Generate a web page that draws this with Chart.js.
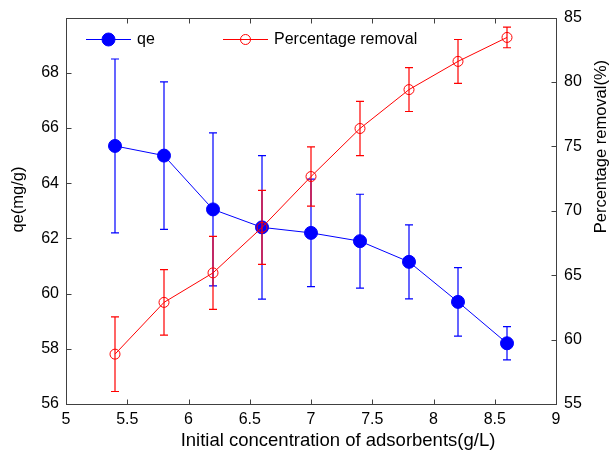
<!DOCTYPE html>
<html><head><meta charset="utf-8">
<script src="https://cdn.jsdelivr.net/npm/chart.js@4.4.1/dist/chart.umd.min.js"></script>
<style>html,body{margin:0;padding:0;background:#fff}</style>
</head><body>
<canvas id="c" width="610" height="455"></canvas>
<script>
const dosage = [5.4, 5.8, 6.2, 6.6, 7.0, 7.4, 7.8, 8.2, 8.6];
const qe = [65.35, 65.0, 63.05, 62.4, 62.2, 61.9, 61.15, 59.7, 58.2];
const qeErr = [3.15, 2.67, 2.77, 2.6, 1.95, 1.7, 1.34, 1.24, 0.6];
const removal = [58.87, 62.89, 65.18, 68.71, 72.66, 76.39, 79.41, 81.6, 83.46];
const removalErr = [2.9, 2.54, 2.83, 2.87, 2.3, 2.1, 1.7, 1.7, 0.8];
const xTicks = [5, 5.5, 6, 6.5, 7, 7.5, 8, 8.5, 9];
const qeTicks = [56, 58, 60, 62, 64, 66, 68];
const removalTicks = [55, 60, 65, 70, 75, 80, 85];
const xTitle = 'Initial concentration of adsorbents(g/L)';
const yTitle = 'qe(mg/g)';
const y1Title = 'Percentage removal(%)';

const FONT = 'Arial, "Liberation Sans", Helvetica, sans-serif';
const FRAME = '#404040';

const errorBars = {
  id: 'errorBars',
  beforeDatasetDraw(chart, args) {
    const ds = chart.data.datasets[args.index];
    if (!ds.errors) return;
    const meta = args.meta;
    const xs = chart.scales[meta.xAxisID], ys = chart.scales[meta.yAxisID];
    const ctx = chart.ctx;
    ctx.save();
    ctx.strokeStyle = ds.borderColor;
    ctx.lineWidth = 1.2;
    ds.data.forEach((p, i) => {
      const e = ds.errors[i];
      const x = xs.getPixelForValue(p.x);
      const y1 = ys.getPixelForValue(p.y + e), y2 = ys.getPixelForValue(p.y - e);
      ctx.beginPath();
      ctx.moveTo(x, y1); ctx.lineTo(x, y2);
      ctx.moveTo(x - 4, y1); ctx.lineTo(x + 4, y1);
      ctx.moveTo(x - 4, y2); ctx.lineTo(x + 4, y2);
      ctx.stroke();
    });
    ctx.restore();
  }
};

const frame = {
  id: 'frame',
  beforeDatasetsDraw(chart) {
    const {ctx, chartArea: a, scales} = chart;
    ctx.save();
    ctx.strokeStyle = FRAME;
    ctx.lineWidth = 1;
    const L = Math.round(a.left) + 0.5, R = Math.round(a.right) + 0.5;
    const T = Math.round(a.top) + 0.5, B = Math.round(a.bottom) + 0.5;
    ctx.strokeRect(L, T, R - L, B - T);
    const tl = 5;
    ctx.beginPath();
    xTicks.forEach(v => {
      const x = Math.round(scales.x.getPixelForValue(v)) + 0.5;
      ctx.moveTo(x, B); ctx.lineTo(x, B - tl);
      ctx.moveTo(x, T); ctx.lineTo(x, T + tl);
    });
    qeTicks.forEach(v => {
      const y = Math.round(scales.y.getPixelForValue(v)) + 0.5;
      ctx.moveTo(L, y); ctx.lineTo(L + tl, y);
    });
    removalTicks.forEach(v => {
      const y = Math.round(scales.y1.getPixelForValue(v)) + 0.5;
      ctx.moveTo(R, y); ctx.lineTo(R - tl, y);
    });
    ctx.stroke();
    ctx.restore();
  }
};

const axisTitles = {
  id: 'axisTitles',
  afterDraw(chart) {
    const {ctx, chartArea: a} = chart;
    ctx.save();
    ctx.fillStyle = '#000';
    ctx.textAlign = 'center';
    ctx.textBaseline = 'middle';
    ctx.font = '18.5px ' + FONT;
    ctx.fillText(xTitle, a.left + 272, a.bottom + 37);
    ctx.font = '16.5px ' + FONT;
    ctx.translate(18, a.top + 182);
    ctx.rotate(-Math.PI / 2);
    ctx.fillText(yTitle, 0, 0);
    ctx.restore();
    ctx.save();
    ctx.fillStyle = '#000';
    ctx.font = '16.5px ' + FONT;
    ctx.textAlign = 'center';
    ctx.textBaseline = 'middle';
    ctx.translate(a.right + 45, a.top + 129);
    ctx.rotate(-Math.PI / 2);
    ctx.fillText(y1Title, 0, 0);
    ctx.restore();
  }
};

const legendIn = {
  id: 'legendIn',
  afterDraw(chart) {
    const {ctx, chartArea: a} = chart;
    const y = Math.round(a.top + 21) + 0.5;
    const items = [
      {ds: chart.data.datasets[0], x0: a.left + 20},
      {ds: chart.data.datasets[1], x0: a.left + 157}
    ];
    ctx.save();
    items.forEach(it => {
      const ds = it.ds;
      ctx.strokeStyle = ds.borderColor;
      ctx.lineWidth = 1;
      ctx.beginPath();
      ctx.moveTo(it.x0, y); ctx.lineTo(it.x0 + 45, y);
      ctx.stroke();
      ctx.beginPath();
      ctx.arc(it.x0 + 22.5, y, ds.pointRadius, 0, Math.PI * 2);
      if (ds.pointBackgroundColor !== 'rgba(0,0,0,0)') {
        ctx.fillStyle = ds.pointBackgroundColor; ctx.fill();
      }
      ctx.stroke();
      ctx.fillStyle = '#000';
      ctx.font = '16px ' + FONT;
      ctx.textBaseline = 'middle';
      ctx.textAlign = 'left';
      ctx.fillText(ds.label, it.x0 + 51, y);
    });
    ctx.restore();
  }
};

const fmt = v => String(Number(v));

new Chart(document.getElementById('c'), {
  type: 'line',
  data: {
    datasets: [
      {
        label: 'qe',
        data: dosage.map((x, i) => ({x, y: qe[i]})),
        errors: qeErr,
        yAxisID: 'y',
        xAxisID: 'x',
        borderColor: '#0000ff',
        backgroundColor: '#0000ff',
        pointBackgroundColor: '#0000ff',
        pointBorderColor: '#0000ff',
        pointRadius: 6.5,
        pointBorderWidth: 1,
        borderWidth: 1,
        tension: 0,
        order: 1
      },
      {
        label: 'Percentage removal',
        data: dosage.map((x, i) => ({x, y: removal[i]})),
        errors: removalErr,
        yAxisID: 'y1',
        xAxisID: 'x',
        borderColor: '#ff0000',
        backgroundColor: 'rgba(0,0,0,0)',
        pointBackgroundColor: 'rgba(0,0,0,0)',
        pointBorderColor: '#ff0000',
        pointRadius: 5,
        pointBorderWidth: 1,
        borderWidth: 1,
        tension: 0,
        order: 0
      }
    ]
  },
  options: {
    responsive: false,
    animation: false,
    devicePixelRatio: 1,
    layout: {padding: {top: 16, left: 0, right: 0, bottom: 0}},
    plugins: {legend: {display: false}, tooltip: {enabled: false}, title: {display: false}},
    scales: {
      x: {
        type: 'linear', position: 'bottom', min: 5, max: 9,
        afterBuildTicks: s => { s.ticks = xTicks.map(v => ({value: v})); },
        afterFit: s => { s.height = 51; },
        grid: {display: false, drawTicks: false},
        border: {display: false},
        ticks: {color: '#000', font: {family: FONT, size: 16}, padding: 6, maxRotation: 0, autoSkip: false, callback: fmt},
        title: {display: false, text: xTitle}
      },
      y: {
        type: 'linear', position: 'left', min: 56, max: 70,
        afterBuildTicks: s => { s.ticks = qeTicks.map(v => ({value: v})); },
        afterFit: s => { s.width = 66; },
        grid: {display: false, drawTicks: false},
        border: {display: false},
        ticks: {color: '#000', font: {family: FONT, size: 16}, padding: 7, autoSkip: false, callback: fmt},
        title: {display: false, text: yTitle}
      },
      y1: {
        type: 'linear', position: 'right', min: 55, max: 85,
        afterBuildTicks: s => { s.ticks = removalTicks.map(v => ({value: v})); },
        afterFit: s => { s.width = 54; },
        grid: {display: false, drawTicks: false},
        border: {display: false},
        ticks: {color: '#000', font: {family: FONT, size: 16}, padding: 8, autoSkip: false, callback: fmt},
        title: {display: false, text: y1Title}
      }
    }
  },
  plugins: [frame, errorBars, legendIn, axisTitles]
});
</script>
</body></html>
